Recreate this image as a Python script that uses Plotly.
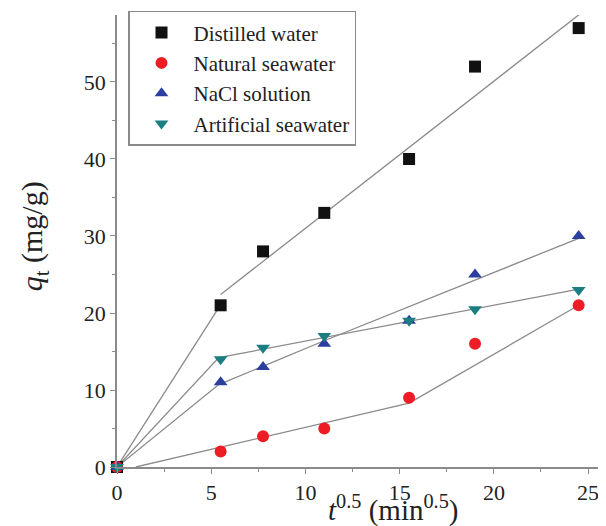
import plotly.graph_objects as go

# Measured data
t = [0, 5.5, 7.75, 11, 15.5, 19, 24.5]
distilled = [0, 21, 28, 33, 40, 52, 57]
natural = [0, 2, 4, 5, 9, 16, 21]
nacl = [0, 11, 13, 16, 19, 25, 30]
artificial = [0, 14, 15.5, 17, 19, 20.5, 23]

# Fitted segments
fit_dist_1_x = [0, 5.3]
fit_dist_1_y = [0, 20.3]
fit_dist_2_x = [5.5, 24.6]
fit_dist_2_y = [22.4, 58.9]
fit_nat_x = [1.0, 15.5, 24.5]
fit_nat_y = [0, 8.3, 21.0]
fit_nacl_x = [0, 5.4, 10.9, 24.5]
fit_nacl_y = [0, 10.7, 16.3, 29.7]
fit_art_x = [0, 5.4, 24.5]
fit_art_y = [0, 14.2, 23.1]

names = ["Distilled water", "Natural seawater", "NaCl solution", "Artificial seawater"]
colors = ["#111111", "#ee1c24", "#2c3e9e", "#1a7e82"]
symbols = ["square", "circle", "triangle-up", "triangle-down"]

fig = go.Figure()
line_style = dict(color="#8a8a8a", width=1.3)
for fx, fy in [(fit_dist_1_x, fit_dist_1_y), (fit_dist_2_x, fit_dist_2_y),
               (fit_nat_x, fit_nat_y), (fit_nacl_x, fit_nacl_y), (fit_art_x, fit_art_y)]:
    fig.add_trace(go.Scatter(x=fx, y=fy, mode="lines", line=line_style,
                             showlegend=False, hoverinfo="skip"))

for name, ys, c, s in zip(names, [distilled, natural, nacl, artificial], colors, symbols):
    fig.add_trace(go.Scatter(x=t, y=ys, mode="markers", name=name,
                             marker=dict(symbol=s, color=c, size=12, line=dict(width=0)),
                             cliponaxis=False))

font_family = "Liberation Serif"
fig.update_layout(
    width=606, height=526,
    margin=dict(l=109, r=8, t=7, b=67, autoexpand=False),
    paper_bgcolor="white", plot_bgcolor="white",
    font=dict(family=font_family, color="#222222"),
    showlegend=True,
    legend=dict(x=0.0225, y=1.009, xanchor="left", yanchor="top",
                bordercolor="#8a8a8a", borderwidth=1.5, bgcolor="white",
                font=dict(family=font_family, size=21, color="#222222"),
                tracegroupgap=0, itemsizing="constant", itemwidth=54),
    xaxis=dict(range=[0, 25.95], tickvals=[0, 5, 10, 15, 20, 25],
               showgrid=False, zeroline=False, showline=True, linecolor="#8a8a8a", linewidth=1.5,
               ticks="outside", ticklen=5, tickcolor="#8a8a8a",
               minor=dict(tickvals=[2.5, 7.5, 12.5, 17.5, 22.5], ticks="outside", ticklen=3, tickcolor="#8a8a8a"),
               tickfont=dict(family=font_family, size=22, color="#222222")),
    yaxis=dict(range=[0, 58.7], tickvals=[0, 10, 20, 30, 40, 50],
               showgrid=False, zeroline=False, showline=True, linecolor="#8a8a8a", linewidth=1.5,
               ticks="outside", ticklen=5, tickcolor="#8a8a8a",
               minor=dict(tickvals=[5, 15, 25, 35, 45, 55], ticks="outside", ticklen=3, tickcolor="#8a8a8a"),
               tickfont=dict(family=font_family, size=22, color="#222222")),
)

fig.add_annotation(xref="paper", yref="paper", x=0.565, y=-0.137, xanchor="center", yanchor="bottom",
                   text="<i>t</i><sup>0.5</sup> (min<sup>0.5</sup>)", showarrow=False,
                   font=dict(family=font_family, size=29, color="#222222"))
fig.add_annotation(xref="paper", yref="paper", x=-0.168, y=0.51, xanchor="center", yanchor="middle",
                   text="<i>q</i><sub>t</sub> (mg/g)", textangle=-90, showarrow=False,
                   font=dict(family=font_family, size=30, color="#222222"))

fig.write_html("out.html")
